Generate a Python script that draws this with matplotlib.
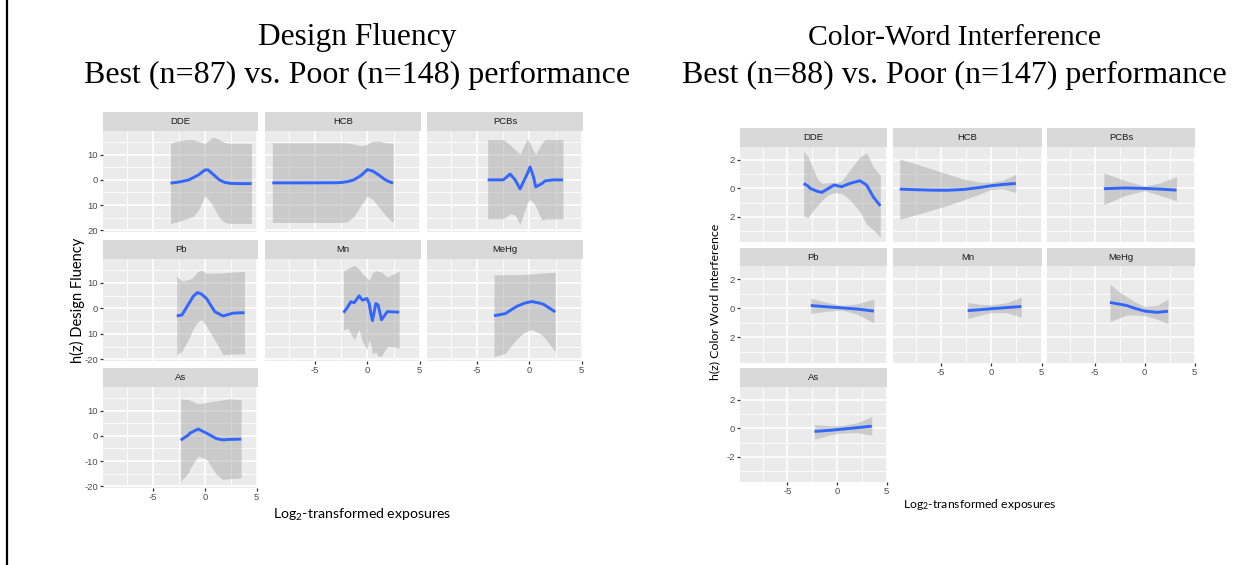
import matplotlib
matplotlib.use("Agg")
import matplotlib.pyplot as plt
from matplotlib.lines import Line2D

W, H = 1244, 565
plt.rcParams['mathtext.fontset'] = 'custom'
plt.rcParams['mathtext.rm'] = 'Lato'
plt.rcParams['mathtext.it'] = 'Lato:italic'

# ---------------- Data: Design Fluency ----------------
DF_TITLE = "Design Fluency"
DF_SUB = "Best (n=87) vs. Poor (n=148) performance"
DF_YLABEL = "h(z) Design Fluency"

DF_DDE_X = [-3.3, -2.4, -1.6, -1.1, -0.6, 0.0, 0.3, 0.8, 1.4, 1.9, 2.5, 3.5, 4.5]
DF_DDE_FIT = [-1.3, -0.8, -0.1, 0.9, 2.0, 3.9, 4.0, 2.2, 0.0, -1.0, -1.4, -1.5, -1.5]
DF_DDE_HI = [14.5, 15.6, 16, 16, 15.2, 14.4, 15.5, 17, 16, 14.8, 14.5, 14.5, 14.5]
DF_DDE_LO = [-17.3, -16.4, -15.2, -14.4, -12, -6.4, -7.5, -10.5, -15, -16.9, -17.3, -17.3, -17.3]

DF_HCB_X = [-9.1, -6, -3, -2.5, -1.9, -1.3, -0.6, 0.0, 0.5, 1.1, 1.6, 2.0, 2.45]
DF_HCB_FIT = [-1.2, -1.2, -1.15, -1.05, -0.7, 0.0, 1.8, 4.1, 3.5, 1.9, 0.3, -0.6, -1.3]
DF_HCB_HI = [14.7, 14.7, 14.7, 14.7, 14.6, 14.2, 13.5, 14.2, 15.3, 15.4, 14.8, 14.6, 14.5]
DF_HCB_LO = [-16.9, -16.9, -16.9, -16.9, -16.6, -14.5, -10, -6.4, -7.8, -10.8, -13.5, -15.3, -16.9]

DF_PCB_X = [-4.0, -2.5, -1.85, -1.37, -0.9, -0.2, 0.06, 0.38, 0.6, 1.18, 1.5, 2.3, 3.2]
DF_PCB_FIT = [0, 0, 2.3, 0, -3.6, 2.5, 5.1, 1.3, -2.8, -1.5, -0.4, 0, 0]
DF_PCB_HI = [16, 16, 14, 12, 10.3, 16.4, 14.5, 11.5, 10.3, 14.5, 16, 16, 16]
DF_PCB_LO = [-15.4, -15.4, -13.5, -14, -17.7, -9, -7.7, -9, -10.5, -16, -15.6, -15.5, -15.5]

DF_PB_X = [-2.7, -2.2, -1.43, -1.1, -0.7, -0.32, 0.16, 0.96, 1.75, 2.7, 3.82]
DF_PB_FIT = [-3.0, -2.6, 2.6, 4.8, 6.2, 5.6, 3.9, -1.3, -3.0, -1.9, -1.7]
DF_PB_HI = [12.6, 10.8, 11.5, 12.3, 14.5, 15.0, 13.8, 13.8, 14, 14.3, 14.5]
DF_PB_LO = [-18.2, -16.9, -11, -7.8, -5.5, -4.5, -7, -12.5, -18.2, -18, -17.8]

DF_MN_X = [-2.29, -1.9, -1.59, -1.27, -0.8, -0.48, -0.06, 0.16, 0.32, 0.48, 0.8, 1.02, 1.34, 1.9, 2.5, 3.03]
DF_MN_FIT = [-1.7, 0.5, 2.6, 2.2, 4.9, 3.2, 3.9, 2.0, -1.9, -4.8, 1.9, 1.3, -4.5, -1.3, -1.4, -1.5]
DF_MN_HI = [14.7, 15.6, 16.3, 16.9, 15.5, 13.5, 12.0, 11.0, 12.5, 14, 14.9, 14.5, 14.3, 12.3, 13.5, 14.7]
DF_MN_LO = [-8.4, -7.8, -10, -12.3, -8.4, -13, -16.2, -12.3, -14, -18.2, -17, -18.8, -18.8, -15, -15.2, -15.6]

DF_MEHG_X = [-3.39, -2.33, -1.21, -0.5, 0.22, 1.02, 1.34, 1.98, 2.46]
DF_MEHG_FIT = [-2.9, -2.1, 0.8, 2.0, 2.7, 2.0, 1.6, -0.1, -1.4]
DF_MEHG_HI = [13.2, 13.2, 13.2, 13.4, 13.5, 13.8, 13.9, 14.1, 14.2]
DF_MEHG_LO = [-19, -17.7, -12, -9.5, -8.3, -9.9, -11, -14.4, -17]

DF_AS_X = [-2.32, -1.59, -1.43, -0.64, 0.16, 1.11, 1.75, 2.4, 3.5]
DF_AS_FIT = [-1.7, 0.3, 1.1, 2.7, 1.1, -1.1, -1.6, -1.4, -1.3]
DF_AS_HI = [14.7, 14.4, 14.2, 12.7, 13.3, 13.9, 14.3, 14.7, 14.3]
DF_AS_LO = [-18, -14.7, -13, -8, -9.3, -15.3, -17.3, -17, -16.7]

# ---------------- Data: Color-Word Interference ----------------
CW_TITLE = "Color-Word Interference"
CW_SUB = "Best (n=88) vs. Poor (n=147) performance"
CW_YLABEL = "h(z) Color Word Interference"

CW_DDE_X = [-3.37, -2.9, -2.7, -2.0, -1.54, -0.87, -0.3, 0.47, 1.3, 2.3, 2.98, 3.66, 4.37]
CW_DDE_FIT = [0.35, 0.15, 0.0, -0.2, -0.28, 0.0, 0.24, 0.12, 0.35, 0.54, 0.24, -0.6, -1.22]
CW_DDE_HI = [2.6, 2.2, 1.85, 0.7, 0.35, 0.4, 0.42, 0.5, 1.3, 2.2, 2.5, 1.5, 0.94]
CW_DDE_LO = [-1.95, -2.05, -1.8, -1.2, -0.85, -0.45, -0.3, -0.35, -0.8, -1.6, -2.5, -2.9, -3.4]

CW_HCB_X = [-9.12, -7.5, -6.1, -4.4, -2.7, -1.0, 0.0, 1.2, 2.43]
CW_HCB_FIT = [-0.05, -0.09, -0.12, -0.13, -0.07, 0.08, 0.19, 0.28, 0.35]
CW_HCB_HI = [2.05, 1.72, 1.4, 1.02, 0.64, 0.42, 0.45, 0.58, 1.0]
CW_HCB_LO = [-2.16, -1.85, -1.55, -1.2, -0.78, -0.35, -0.07, -0.02, -0.3]

CW_PCB_X = [-4.09, -2.0, 0.0, 1.6, 3.18]
CW_PCB_FIT = [-0.02, 0.03, 0.0, -0.05, -0.12]
CW_PCB_HI = [1.1, 0.55, 0.16, 0.4, 0.82]
CW_PCB_LO = [-1.13, -0.5, -0.16, -0.5, -0.87]

CW_PB_X = [-2.65, -1.0, 0.5, 2.0, 3.72]
CW_PB_FIT = [0.19, 0.1, 0.03, -0.05, -0.19]
CW_PB_HI = [0.7, 0.4, 0.2, 0.3, 0.64]
CW_PB_LO = [-0.35, -0.2, -0.13, -0.4, -1.0]

CW_MN_X = [-2.36, -1.2, 0.0, 1.5, 2.97]
CW_MN_FIT = [-0.16, -0.1, -0.03, 0.05, 0.12]
CW_MN_HI = [0.4, 0.28, 0.24, 0.38, 0.75]
CW_MN_LO = [-0.7, -0.48, -0.3, -0.3, -0.6]

CW_MEHG_X = [-3.48, -2.5, -1.8, -1.0, 0.0, 1.25, 2.33]
CW_MEHG_FIT = [0.4, 0.28, 0.19, 0.0, -0.19, -0.28, -0.2]
CW_MEHG_HI = [1.65, 1.1, 0.8, 0.45, 0.12, 0.2, 0.64]
CW_MEHG_LO = [-0.9, -0.65, -0.45, -0.45, -0.5, -0.75, -1.06]

CW_AS_X = [-2.27, -0.5, 0.5, 2.0, 3.5]
CW_AS_FIT = [-0.21, -0.12, -0.05, 0.05, 0.16]
CW_AS_HI = [0.28, 0.18, 0.2, 0.4, 0.82]
CW_AS_LO = [-0.75, -0.42, -0.32, -0.3, -0.47]

PANEL_NAMES = ["DDE", "HCB", "PCBs", "Pb", "Mn", "MeHg", "As"]
X_TICKS = [-5, 0, 5]
X_TICKLABELS = ["-5", "0", "5"]
DF_YTICKS = [-20, -10, 0, 10]
DF_YTICKLABELS = [["20", "10", "0", "10"], ["-20", "10", "0", "10"], ["-20", "-10", "0", "10"]]
CW_YTICKS = [-2, 0, 2]
CW_YTICKLABELS = [["2", "0", "2"], ["2", "0", "2"], ["-2", "0", "2"]]

DF_DATA = [(DF_DDE_X, DF_DDE_FIT, DF_DDE_LO, DF_DDE_HI), (DF_HCB_X, DF_HCB_FIT, DF_HCB_LO, DF_HCB_HI),
           (DF_PCB_X, DF_PCB_FIT, DF_PCB_LO, DF_PCB_HI), (DF_PB_X, DF_PB_FIT, DF_PB_LO, DF_PB_HI),
           (DF_MN_X, DF_MN_FIT, DF_MN_LO, DF_MN_HI), (DF_MEHG_X, DF_MEHG_FIT, DF_MEHG_LO, DF_MEHG_HI),
           (DF_AS_X, DF_AS_FIT, DF_AS_LO, DF_AS_HI)]
CW_DATA = [(CW_DDE_X, CW_DDE_FIT, CW_DDE_LO, CW_DDE_HI), (CW_HCB_X, CW_HCB_FIT, CW_HCB_LO, CW_HCB_HI),
           (CW_PCB_X, CW_PCB_FIT, CW_PCB_LO, CW_PCB_HI), (CW_PB_X, CW_PB_FIT, CW_PB_LO, CW_PB_HI),
           (CW_MN_X, CW_MN_FIT, CW_MN_LO, CW_MN_HI), (CW_MEHG_X, CW_MEHG_FIT, CW_MEHG_LO, CW_MEHG_HI),
           (CW_AS_X, CW_AS_FIT, CW_AS_LO, CW_AS_HI)]

fig = plt.figure(figsize=(W / 100, H / 100), dpi=100)
fig.patch.set_facecolor("white")
renderer = fig.canvas.get_renderer()


def px_rect(x0, y0, x1, y1):
    return [x0 / W, 1 - y1 / H, (x1 - x0) / W, (y1 - y0) / H]


def draw_facets(cols, strips, panels, data, xlim, ylim, yticks, yticklabels, yminor, xminor):
    for i, name in enumerate(PANEL_NAMES):
        r, c = divmod(i, 3)
        cx0, cx1 = cols[c]
        sy0, sy1 = strips[r]
        py0, py1 = panels[r]
        sax = fig.add_axes(px_rect(cx0, sy0, cx1, sy1))
        sax.set_facecolor("#D9D9D9")
        sax.set_xticks([]); sax.set_yticks([])
        for s in sax.spines.values():
            s.set_visible(False)
        sax.text(0.5, 0.5, name, ha="center", va="center", fontsize=6.8, color="#1A1A1A",
                 family="Liberation Sans", transform=sax.transAxes)
        ax = fig.add_axes(px_rect(cx0, py0, cx1, py1))
        ax.set_facecolor("#EBEBEB")
        for s in ax.spines.values():
            s.set_visible(False)
        ax.set_xlim(xlim); ax.set_ylim(ylim)
        for v in xminor:
            ax.axvline(v, color="white", lw=0.6, zorder=0)
        for v in yminor:
            ax.axhline(v, color="white", lw=0.6, zorder=0)
        for v in X_TICKS:
            ax.axvline(v, color="white", lw=1.2, zorder=0)
        for v in yticks:
            ax.axhline(v, color="white", lw=1.2, zorder=0)
        x, fit, lo, hi = data[i]
        ax.fill_between(x, lo, hi, color="#999999", alpha=0.4, lw=0, zorder=1)
        ax.plot(x, fit, color="#3366FF", lw=2.1, zorder=2, solid_capstyle="butt")
        ax.tick_params(length=2.2, width=0.9, color="#333333", labelcolor="#4D4D4D", labelsize=6.8, pad=1.5)
        bottom = (r == 2) or (r == 1 and c > 0)
        if bottom:
            ax.set_xticks(X_TICKS, X_TICKLABELS)
        else:
            ax.set_xticks([])
        if c == 0:
            ax.set_yticks(yticks, yticklabels[r])
        else:
            ax.set_yticks([])
        for lab in ax.get_xticklabels() + ax.get_yticklabels():
            lab.set_family("Liberation Sans")


def fit_text(x, y, s, target, rotation=0, **kw):
    t = fig.text(x / W, 1 - y / H, s, fontsize=10, rotation=rotation, ha="center", va="center", **kw)
    bb = t.get_window_extent(renderer)
    cur = bb.height if rotation else bb.width
    t.set_fontsize(10 * target / cur)
    return t


# Left facets
draw_facets(cols=[(103, 258), (265, 421), (427, 583)],
            strips=[(112, 131), (240, 259), (368, 387)],
            panels=[(131, 232), (259, 361), (387, 488)],
            data=DF_DATA, xlim=(-9.8, 5.12), ylim=(-20.7, 19.4),
            yticks=DF_YTICKS, yticklabels=DF_YTICKLABELS,
            yminor=[-15, -5, 5, 15], xminor=[-7.5, -2.5, 2.5])
# Right facets
draw_facets(cols=[(740, 887), (893, 1042), (1047, 1195)],
            strips=[(128, 147), (248, 266), (368, 387)],
            panels=[(147, 242), (266, 363), (387, 482)],
            data=CW_DATA, xlim=(-9.79, 5.04), ylim=(-3.75, 2.9),
            yticks=CW_YTICKS, yticklabels=CW_YTICKLABELS,
            yminor=[-3, -1, 1], xminor=[-7.5, -2.5, 2.5])

# Titles
fit_text(357, 38, DF_TITLE, 198, family="Liberation Serif", color="black")
fit_text(357, 75, DF_SUB, 547, family="Liberation Serif", color="black")
fit_text(954, 38, CW_TITLE, 292, family="Liberation Serif", color="black")
fit_text(954, 75, CW_SUB, 544, family="Liberation Serif", color="black")

# Axis labels
fit_text(77, 300, DF_YLABEL, 124, rotation=90, family="Lato", color="black")
fit_text(715, 302, CW_YLABEL, 158, rotation=90, family="Lato", color="black")
fit_text(362, 515, "Log$_2$-transformed exposures", 178, family="Lato", color="black")
fit_text(980, 505, "Log$_2$-transformed exposures", 154, family="Lato", color="black")

# Slide border line on the left
fig.add_artist(Line2D([7 / W, 7 / W], [0, 1], color="black", lw=1.6))

fig.savefig("out.png", dpi=100, facecolor="white")
